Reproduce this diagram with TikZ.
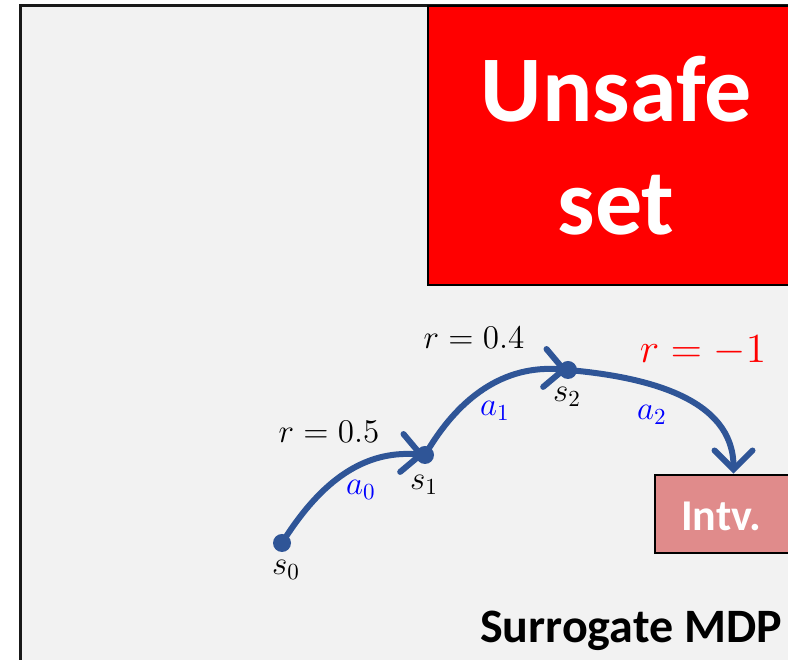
\documentclass[tikz,border=0pt]{standalone}
\usepackage{amsmath, amssymb}
\usepackage{xcolor}
\usepackage{fontspec}
\usepackage{tikz}
\usetikzlibrary{arrows.meta}
\newfontfamily\calib{Carlito}
\definecolor{trajblue}{RGB}{47,85,151}
\definecolor{intvred}{RGB}{224,139,139}
\definecolor{panelgray}{RGB}{242,242,242}

\begin{document}
\begin{tikzpicture}[x=1pt, y=1pt,
    traj/.style={trajblue, line width=6pt, -{Straight Barb[length=19pt, width=38pt, line cap=round]}},
    dot/.style={circle, fill=trajblue, minimum size=18pt, inner sep=0pt},
    mlab/.style={anchor=base, inner sep=0pt, font=\Large, scale=2.3, transform shape},
    bigword/.style={anchor=base, inner sep=0pt, text=white, font=\calib\bfseries\fontsize{94}{113}\selectfont}]
  \useasboundingbox (0,0) rectangle (788,660);
  \clip (0,0) rectangle (788,660);
  % panel
  \draw[black!90, line width=3pt, fill=panelgray] (20,654) rectangle (820,-20);
  % unsafe set
  \draw[black, line width=2pt, fill=red] (428,654) rectangle (820,375);
  \node[bigword] (unsafe) at (616,538) {Unsafe};
  \node[bigword] (set) at (616,425) {set};
  % intervention box
  \node[draw=black, line width=2.5pt, fill=intvred, minimum width=135pt, minimum height=78pt,
    inner sep=0pt] (intv) at (722.5,146) {};
  \node[anchor=base, inner sep=0pt, text=white, font=\calib\bfseries\fontsize{44}{52}\selectfont]
    (intvtext) at (721,129) {Intv.};
  % states
  \coordinate (s0) at (282,117);
  \coordinate (s1) at (425,205);
  \coordinate (s2) at (568,290);
  % trajectory
  \draw[traj] (s0) to[out=58, in=175] (s1);
  \draw[traj] (s1) to[out=60, in=175] (s2);
  \draw[traj] (s2) to[out=-5, in=90] ([xshift=11pt]intv.north);
  \node[dot] (d0) at (s0) {};
  \node[dot] (d1) at (s1) {};
  \node[dot] (d2) at (s2) {};
  % labels
  \node[mlab] (ls0) at (286,85) {$s_0$};
  \node[mlab] (ls1) at (424,170) {$s_1$};
  \node[mlab] (ls2) at (567,258) {$s_2$};
  \node[mlab, blue] (la0) at (361,165) {$a_0$};
  \node[mlab, blue] (la1) at (495,244) {$a_1$};
  \node[mlab, blue] (la2) at (652,240) {$a_2$};
  \node[mlab] (lr0) at (329,217) {$r=0.5$};
  \node[mlab] (lr1) at (474,311) {$r=0.4$};
  \node[mlab, red, scale=1.25] (lr2) at (703,297) {$r=-1$};
  \node[anchor=base, inner sep=0pt, font=\calib\bfseries\fontsize{48}{56}\selectfont]
    (title) at (631,17) {Surrogate MDP};
\end{tikzpicture}
\end{document}
